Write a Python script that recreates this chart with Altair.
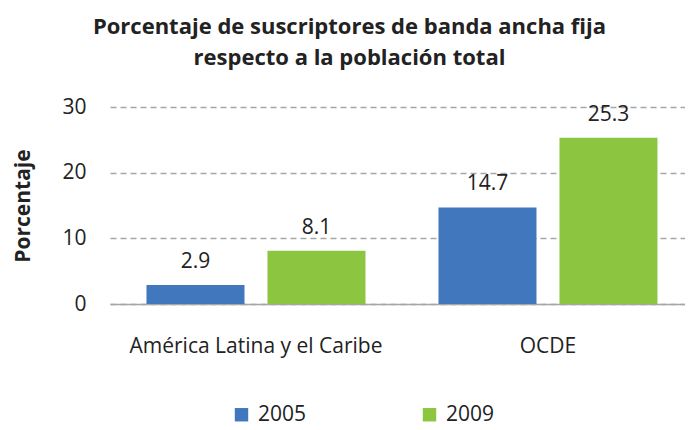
import altair as alt
import pandas as pd

regions = ["América Latina y el Caribe", "OCDE"]
years = ["2005", "2009"]
values_2005 = [2.9, 14.7]
values_2009 = [8.1, 25.3]

rows = []
for i, r in enumerate(regions):
    rows.append({"region": r, "year": "2005", "value": values_2005[i]})
    rows.append({"region": r, "year": "2009", "value": values_2009[i]})
df = pd.DataFrame(rows)

FONT = "Open Sans"
FS = 21
colors = ["#4177BD", "#8CC540"]

base = alt.Chart(df).encode(
    x=alt.X("region:N", sort=regions,
            scale=alt.Scale(paddingInner=0.25, paddingOuter=0.1096, align=0.57),
            axis=alt.Axis(title=None, labelAngle=0, labelFontSize=FS, labelColor="#222222",
                          labelFont=FONT, labelPadding=31, ticks=False, labelLimit=0,
                          domainColor="#A6A6A6", domainWidth=1.5)),
    xOffset=alt.XOffset("year:N", sort=years,
                        scale=alt.Scale(paddingInner=0.19, paddingOuter=0)),
)

bars = base.mark_bar().encode(
    y=alt.Y("value:Q", scale=alt.Scale(domain=[0, 30]),
            axis=alt.Axis(title="Porcentaje", values=[0, 10, 20, 30], titleFontSize=FS,
                          titleFont=FONT, titleFontWeight="bold", titleColor="#222222",
                          titlePadding=28, labelFontSize=FS, labelFont=FONT,
                          labelColor="#222222", labelPadding=24, ticks=False, domain=False,
                          grid=True, gridDash=[6, 4], gridColor="#A6A6A6", gridWidth=1.3)),
    color=alt.Color("year:N", sort=years, scale=alt.Scale(domain=years, range=colors),
                    legend=alt.Legend(title=None, orient="none", direction="horizontal",
                                      legendX=121, legendY=297, symbolType="square",
                                      symbolSize=180, symbolStrokeWidth=0, labelFontSize=FS,
                                      labelFont=FONT, labelColor="#222222",
                                      columnPadding=112, labelOffset=6)),
)

labels = base.mark_text(baseline="bottom", dy=-13, fontSize=FS, font=FONT,
                        color="#222222").encode(
    y="value:Q",
    text=alt.Text("value:Q", format=".1f"),
)

chart = (bars + labels).properties(
    width=575, height=197,
    autosize=alt.AutoSizeParams(type="none"),
    padding={"left": 102, "top": 99, "right": 0, "bottom": 122},
    title=alt.Title(
        ["Porcentaje de suscriptores de banda ancha fija", "respecto a la población total"],
        fontSize=22, font=FONT, fontWeight="bold", color="#222222", anchor="middle",
        dx=-48, offset=26, lineHeight=31,
    ),
).configure_view(stroke=None)

chart.save("out.html", embed_options={"renderer": "svg", "actions": False})
